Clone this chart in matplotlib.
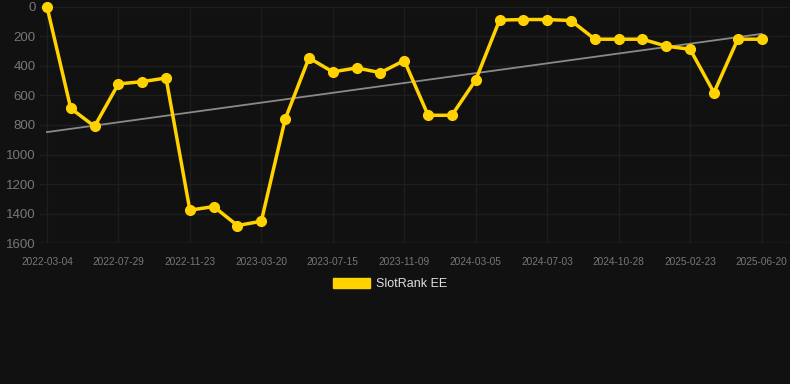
import matplotlib
matplotlib.use("Agg")
import matplotlib.pyplot as plt
import matplotlib.patches as mpatches
import numpy as np

plt.rcParams['font.family'] = ['Liberation Sans', 'DejaVu Sans']

dates = ["2022-03-04", "", "", "2022-07-29", "", "", "2022-11-23", "", "",
         "2023-03-20", "", "", "2023-07-15", "", "", "2023-11-09", "", "",
         "2024-03-05", "", "", "2024-07-03", "", "", "2024-10-28", "", "",
         "2025-02-23", "", "", "2025-06-20"]
ranks = [0, 688, 810, 523, 508, 483, 1376, 1352, 1480, 1451, 762,
         347, 442, 415, 447, 365, 735, 735, 496, 92, 88, 88, 95,
         221, 221, 221, 268, 289, 582, 221, 221]
series_name = "SlotRank EE"

bg = "#111111"
fig = plt.figure(figsize=(7.9, 3.84), dpi=100, facecolor=bg)
ax = fig.add_axes([40/790, (384-243.3)/384, (789-40)/790, (243.3-6.5)/384], facecolor=bg)

x = np.arange(len(ranks))
coef = np.polyfit(x, ranks, 1)
ax.plot(x, np.polyval(coef, x), color="#8a8a8a", lw=1.3, zorder=2)
ax.plot(x, ranks, color="#FFD200", lw=2.5, marker="o", ms=7, zorder=3, clip_on=False)

ax.set_ylim(1600, 0)
ax.set_xlim(-0.29, 31.15)
ax.set_yticks(range(0, 1601, 200))
tick_idx = [i for i, d in enumerate(dates) if d]
ax.set_xticks(tick_idx)
ax.set_xticklabels([dates[i] for i in tick_idx])
ax.grid(True, color="#1e1e1e", lw=1)
ax.set_axisbelow(True)
for s in ax.spines.values():
    s.set_visible(False)
ax.axhline(1600, color="#2e2e2e", lw=1, zorder=1)
ax.tick_params(axis="both", length=0, colors="#777777")
ax.tick_params(axis="y", labelsize=9.5, pad=3)
ax.tick_params(axis="x", labelsize=7.3, pad=10)

handle = mpatches.Patch(color="#FFD200", label=series_name)
leg = fig.legend(handles=[handle], loc="center", bbox_to_anchor=(390/790, 1-284/384),
                 frameon=False, fontsize=9, handlelength=3.0, handleheight=0.9,
                 handletextpad=0.5, labelcolor="#e0e0e0")

fig.savefig("out.png", dpi=100, facecolor=bg)
